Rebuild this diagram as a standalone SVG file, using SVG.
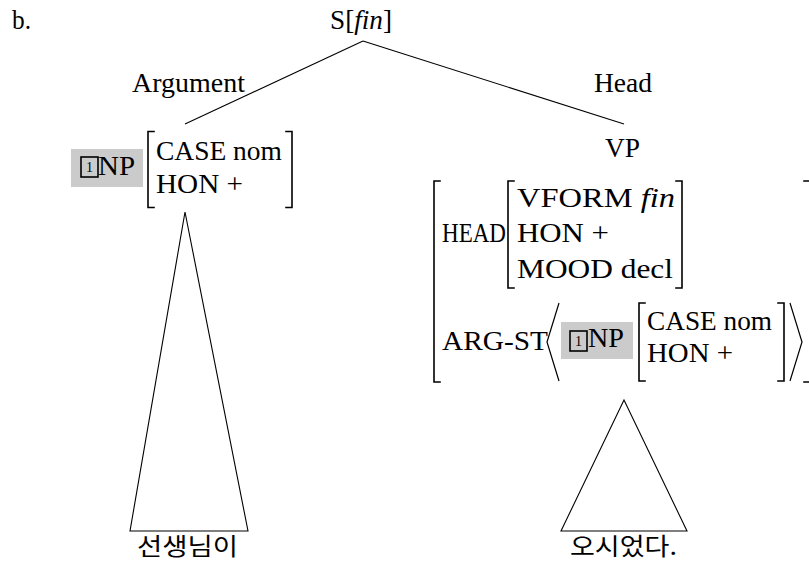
<svg xmlns="http://www.w3.org/2000/svg" width="809" height="562" viewBox="0 0 809 562" font-family="'Liberation Serif', 'Times New Roman', serif">
  <style>
    text { font-family: "Liberation Serif", "Times New Roman", serif; font-size: 27px; fill: #000; }
    .it { font-style: italic; }
    .tag { font-size: 14px; }
    .ko { font-family: "Noto Sans CJK KR", "Noto Sans", sans-serif; font-size: 24px; }
    .edge { stroke: #000; stroke-width: 1.1; fill: none; }
    .brk { stroke: #000; stroke-width: 1.6; fill: none; stroke-linecap: square; }
    .ang { stroke: #000; stroke-width: 1.2; fill: none; }
    .shade { fill: #cbcbcb; }
    .box { fill: none; stroke: #000; stroke-width: 1.6; }
  </style>

  <text x="12" y="29" textLength="19" lengthAdjust="spacingAndGlyphs">b.</text>

  <!-- tree edges and roofs -->
  <g id="connectors">
    <path class="edge" d="M363,41 L185,124"/>
    <path class="edge" d="M363,41 L624,124"/>
    <path class="edge" d="M185,212 L130,531 L248,531 Z"/>
    <path class="edge" d="M624,400 L561,531 L687,531 Z"/>
  </g>

  <g id="root">
    <text x="330" y="29" textLength="62" lengthAdjust="spacingAndGlyphs">S[<tspan class="it">fin</tspan>]</text>
  </g>

  <g id="label-argument">
    <text x="132" y="92" textLength="113" lengthAdjust="spacingAndGlyphs">Argument</text>
  </g>

  <g id="label-head">
    <text x="594" y="92" textLength="58" lengthAdjust="spacingAndGlyphs">Head</text>
  </g>

  <!-- subject NP with its feature matrix -->
  <g id="np-subject">
    <rect class="shade" x="71" y="149" width="72" height="38"/>
    <rect class="box" x="81" y="157" width="17" height="20"/>
    <text class="tag" x="89.5" y="172" text-anchor="middle">1</text>
    <text x="98" y="175" textLength="37" lengthAdjust="spacingAndGlyphs">NP</text>
    <path class="brk" d="M154,131.5 H148 V207.5 H154"/>
    <text x="156" y="160" textLength="126" lengthAdjust="spacingAndGlyphs">CASE nom</text>
    <text x="156" y="193" textLength="87" lengthAdjust="spacingAndGlyphs">HON +</text>
    <path class="brk" d="M286,131.5 H292 V207.5 H286"/>
  </g>

  <!-- VP with HEAD and ARG-ST features -->
  <g id="vp">
    <text x="605" y="157" textLength="35" lengthAdjust="spacingAndGlyphs">VP</text>
    <path class="brk" d="M440,181 H434 V382 H440"/>
    <path class="brk" d="M804,181 H811 V382 H804"/>

    <text x="442" y="242" textLength="64" lengthAdjust="spacingAndGlyphs">HEAD</text>
    <path class="brk" d="M514,181 H508 V288 H514"/>
    <text x="517" y="207" textLength="158" lengthAdjust="spacingAndGlyphs">VFORM <tspan class="it">fin</tspan></text>
    <text x="517" y="242" textLength="92" lengthAdjust="spacingAndGlyphs">HON +</text>
    <text x="517" y="278" textLength="156" lengthAdjust="spacingAndGlyphs">MOOD decl</text>
    <path class="brk" d="M676,181 H682 V288 H676"/>

    <text x="442" y="350" textLength="106" lengthAdjust="spacingAndGlyphs">ARG-ST</text>
    <path class="ang" d="M559,303 L547,342 L559,381"/>
    <rect class="shade" x="561" y="322" width="72" height="37"/>
    <rect class="box" x="570" y="331" width="17" height="20"/>
    <text class="tag" x="578.5" y="346" text-anchor="middle">1</text>
    <text x="588" y="347" textLength="36" lengthAdjust="spacingAndGlyphs">NP</text>
    <path class="brk" d="M645,303 H639 V381 H645"/>
    <text x="647" y="330" textLength="125" lengthAdjust="spacingAndGlyphs">CASE nom</text>
    <text x="647" y="362" textLength="86" lengthAdjust="spacingAndGlyphs">HON +</text>
    <path class="brk" d="M778,303 H784 V381 H778"/>
    <path class="ang" d="M790,303 L802,342 L790,381"/>
  </g>

  <g id="leaf-subject">
    <text class="ko" x="137" y="555" textLength="101" lengthAdjust="spacingAndGlyphs">선생님이</text>
  </g>

  <g id="leaf-verb">
    <text class="ko" x="570" y="555" textLength="107" lengthAdjust="spacingAndGlyphs">오시었다.</text>
  </g>
</svg>
